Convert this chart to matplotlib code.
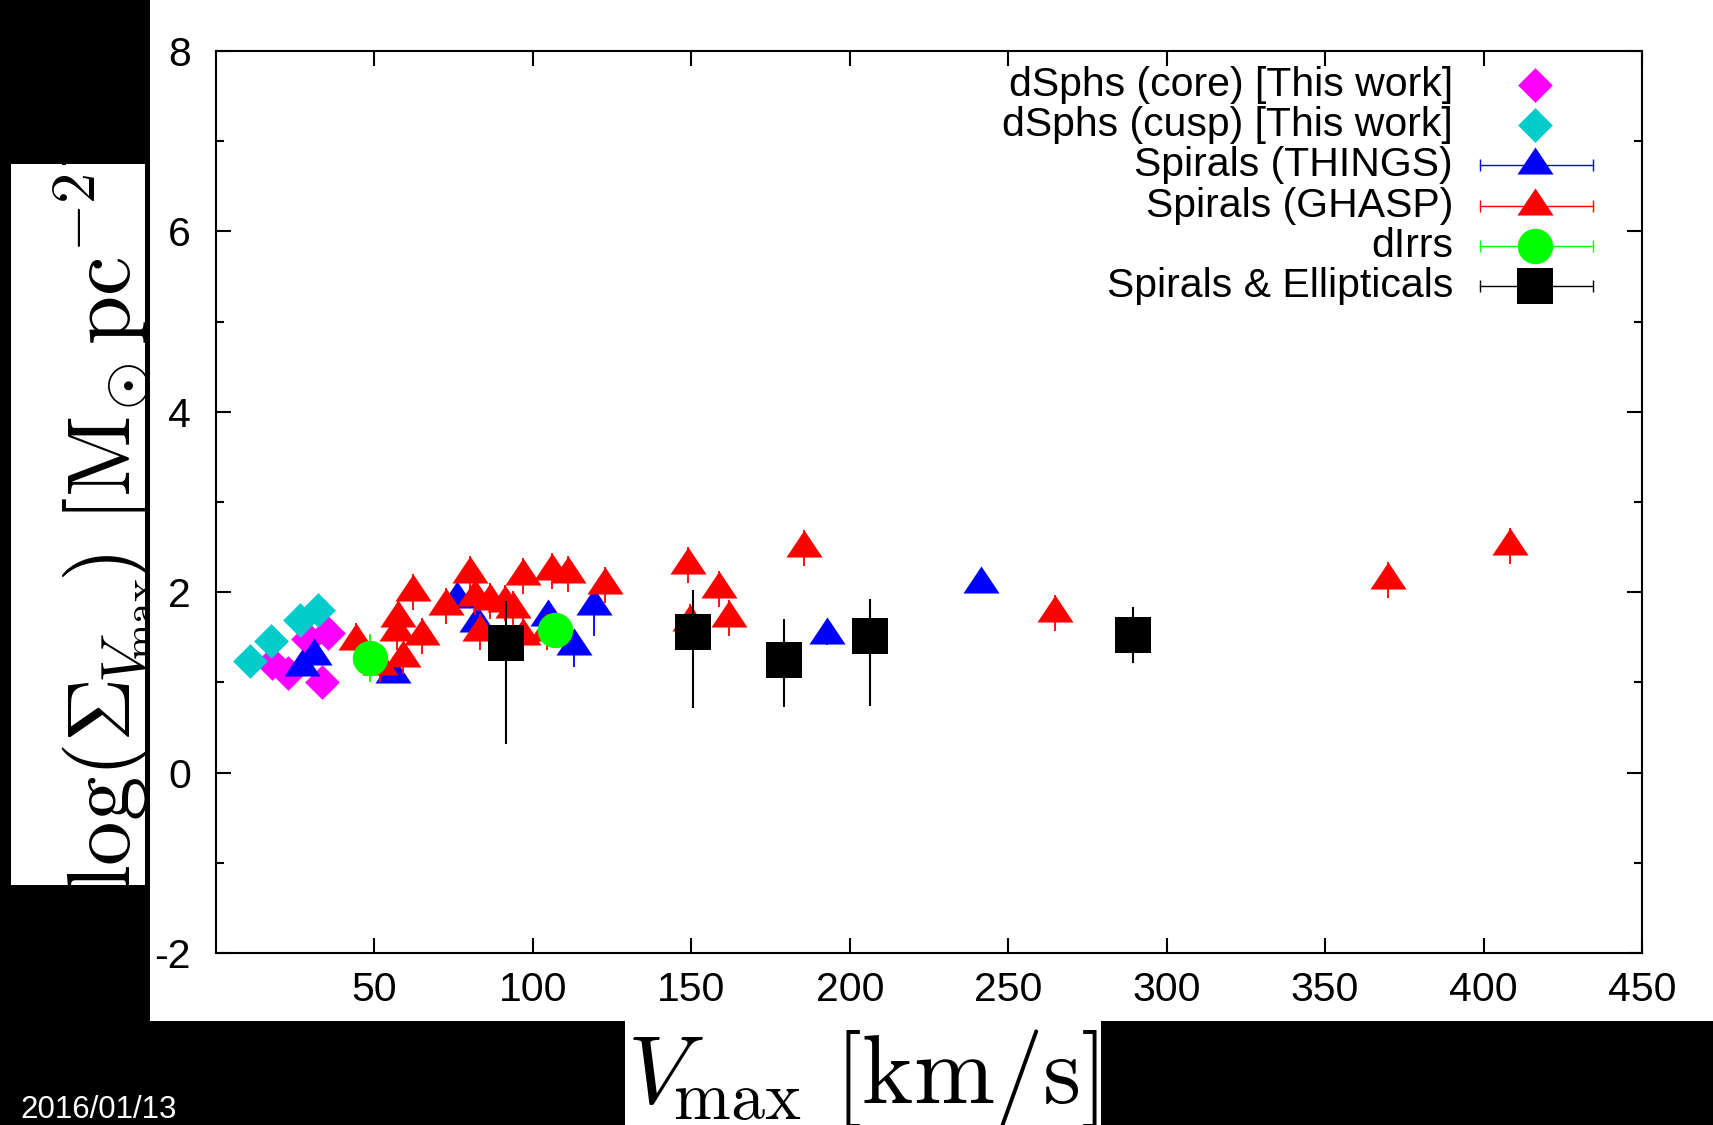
import numpy as np
import matplotlib.pyplot as plt
from matplotlib.patches import Rectangle
from matplotlib.ticker import MultipleLocator

plt.rcParams['font.family'] = ['Liberation Sans', 'DejaVu Sans']
plt.rcParams['mathtext.fontset'] = 'cm'
plt.rcParams['axes.unicode_minus'] = False

# dSphs (core) [This work]
core_v = [17.6, 22.8, 29.1, 33.4, 35.5]
core_s = [1.22, 1.10, 1.48, 1.00, 1.55]

# dSphs (cusp) [This work]
cusp_v = [10.7, 17.4, 26.5, 32.2]
cusp_s = [1.24, 1.46, 1.69, 1.80]

# Spirals (THINGS)
things_v = [27.0, 31.0, 56.0, 76.0, 82.3, 104.9, 113.1, 119.3, 192.8, 241.4]
things_s = [1.17, 1.29, 1.09, 1.92, 1.66, 1.72, 1.40, 1.85, 1.52, 2.09]
things_lo = [0.10, 0.10, 0.05, 0.10, 0.10, 0.10, 0.23, 0.34, 0.10, 0.10]
things_hi = [0.10, 0.10, 0.05, 0.10, 0.10, 0.10, 0.15, 0.22, 0.10, 0.10]

# Spirals (GHASP)
ghasp_v = [44.2, 51.8, 57.0, 57.5, 59.1, 62.1, 65.1, 72.6, 80.2, 81.8, 83.3, 86.5,
           91.2, 93.8, 96.8, 97.0, 104.4, 106.0, 111.2, 122.8, 148.9, 149.6,
           158.6, 162.0, 185.6, 264.8, 369.7, 408.3]
ghasp_s = [1.46, 1.18, 1.56, 1.71, 1.27, 2.00, 1.51, 1.85, 2.20, 1.95, 1.56, 1.90,
           1.88, 1.81, 1.51, 2.18, 1.56, 2.23, 2.20, 2.08, 2.30, 1.67,
           2.04, 1.71, 2.49, 1.77, 2.14, 2.51]
ghasp_err = [0.20, 0.18, 0.20, 0.20, 0.18, 0.20, 0.20, 0.20, 0.20, 0.20, 0.20, 0.20,
             0.20, 0.20, 0.20, 0.20, 0.20, 0.20, 0.20, 0.20, 0.20, 0.20,
             0.20, 0.20, 0.20, 0.20, 0.20, 0.20]

# dIrrs
dirr_v = [48.7, 107.1]
dirr_s = [1.27, 1.58]
dirr_err = [0.27, 0.15]

# Spirals & Ellipticals
se_v = [91.6, 150.4, 179.1, 206.5, 289.3]
se_s = [1.44, 1.56, 1.25, 1.51, 1.53]
se_lo = [1.12, 0.84, 0.52, 0.77, 0.32]
se_hi = [0.46, 0.46, 0.45, 0.42, 0.31]

labels = ['dSphs (core) [This work]', 'dSphs (cusp) [This work]',
          'Spirals (THINGS)', 'Spirals (GHASP)', 'dIrrs', 'Spirals & Ellipticals']

W, H = 1713, 1125
fig = plt.figure(figsize=(W / 100, H / 100), dpi=100, facecolor='black')

# white panel of the slide
fig.add_artist(Rectangle((150 / W, 1 - 1021 / H), 1, 1, transform=fig.transFigure,
                         facecolor='white', edgecolor='none', zorder=0))

ax = fig.add_axes([216 / W, 1 - 953 / H, (1642 - 216) / W, (953 - 51) / H])
ax.set_facecolor('white')

tri = [(0, 4 / 3), (-4 / 3, -2 / 3), (4 / 3, -2 / 3)]
dia = [(0, 1), (1, 0), (0, -1), (-1, 0)]

magenta = '#ff00ff'
cyan = '#00cccc'
blue = '#0000ff'
red = '#ff0000'
green = '#00ff00'

ax.plot(core_v, core_s, ls='none', marker=dia, ms=25, color=magenta, mew=0, zorder=3)
ax.plot(cusp_v, cusp_s, ls='none', marker=dia, ms=25, color=cyan, mew=0, zorder=4)
ax.errorbar(things_v, things_s, yerr=[things_lo, things_hi], ls='none', marker=tri,
            ms=26, color=blue, mew=0, elinewidth=1.3, capsize=5, capthick=1.3, zorder=5)
ax.errorbar(ghasp_v, ghasp_s, yerr=ghasp_err, ls='none', marker=tri,
            ms=26, color=red, mew=0, elinewidth=1.3, capsize=5, capthick=1.3, zorder=6)
ax.errorbar(dirr_v, dirr_s, yerr=dirr_err, ls='none', marker='o',
            ms=25.5, color=green, mew=0, elinewidth=1.3, capsize=5, capthick=1.3, zorder=7)
ax.errorbar(se_v, se_s, yerr=[se_lo, se_hi], ls='none', marker='s',
            ms=26, color='black', mew=0, elinewidth=1.5, capsize=5, capthick=1.5, zorder=8)

ax.set_xlim(0, 450)
ax.set_ylim(-2, 8)
ax.set_xticks(np.arange(50, 451, 50))
ax.set_yticks(np.arange(-2, 9, 2))
ax.yaxis.set_minor_locator(MultipleLocator(1))
ax.tick_params(which='both', direction='in', top=True, right=True, width=1.5,
               labelsize=29.5)
ax.tick_params(which='major', length=11)
ax.tick_params(which='minor', length=5.5)
ax.tick_params(axis='x', pad=13)
ax.tick_params(axis='y', pad=18)
for s in ax.spines.values():
    s.set_linewidth(1.5)

# key, gnuplot style: text right aligned, sample on the right
styles = [
    dict(marker=dia, ms=25, color=magenta, bar=False),
    dict(marker=dia, ms=25, color=cyan, bar=False),
    dict(marker=tri, ms=26, color=blue, bar=True),
    dict(marker=tri, ms=26, color=red, bar=True),
    dict(marker='o', ms=25.5, color=green, bar=True),
    dict(marker='s', ms=26, color='black', bar=True),
]
key_y = 0.9624
for lab, st in zip(labels, styles):
    ax.text(0.8674, key_y, lab, transform=ax.transAxes, ha='right', va='center',
            fontsize=29.5)
    if st['bar']:
        ax.plot([0.8866, 0.9655], [key_y, key_y], transform=ax.transAxes,
                color=st['color'], lw=1, clip_on=False, zorder=9)
        ax.plot([0.8866, 0.9655], [key_y, key_y], transform=ax.transAxes, ls='none',
                marker='|', ms=8, mew=1, color=st['color'], clip_on=False, zorder=9)
    ax.plot([0.925], [key_y], transform=ax.transAxes, ls='none', marker=st['marker'],
            ms=st['ms'], color=st['color'], mew=0, clip_on=False, zorder=10)
    key_y -= 0.04465

# axis titles pasted on white boxes, clipped like the slide
xbox = Rectangle((625 / W, 0), (1101 - 625) / W, 1 - 1021 / H, transform=fig.transFigure,
                 facecolor='white', edgecolor='none', zorder=1)
fig.add_artist(xbox)
xt = fig.text(863 / W, 1 - 1103 / H, r'$V_{\!\rm max}\ [{\rm km/s}]$', fontsize=70,
              ha='center', va='baseline', zorder=2)
xt.set_clip_path(xbox)

ybox = Rectangle((11 / W, 1 - 885 / H), (145 - 11) / W, (885 - 164) / H,
                 transform=fig.transFigure, facecolor='white', edgecolor='none', zorder=1)
fig.add_artist(ybox)
yt = fig.text(130 / W, 1 - 520 / H,
              r'$\log(\Sigma_{\!V_{\!\!\rm max}}\!)\ [{\rm M}_{\!\odot}{\rm pc}^{-2}]$',
              fontsize=64, rotation=90, rotation_mode='anchor', ha='center',
              va='baseline', zorder=2)
yt.set_clip_path(ybox)

fig.text(20 / W, 1 - 1118 / H, '2016/01/13', color='white', fontsize=22.5,
         va='baseline')

fig.savefig('out.png', dpi=100, facecolor='black')
